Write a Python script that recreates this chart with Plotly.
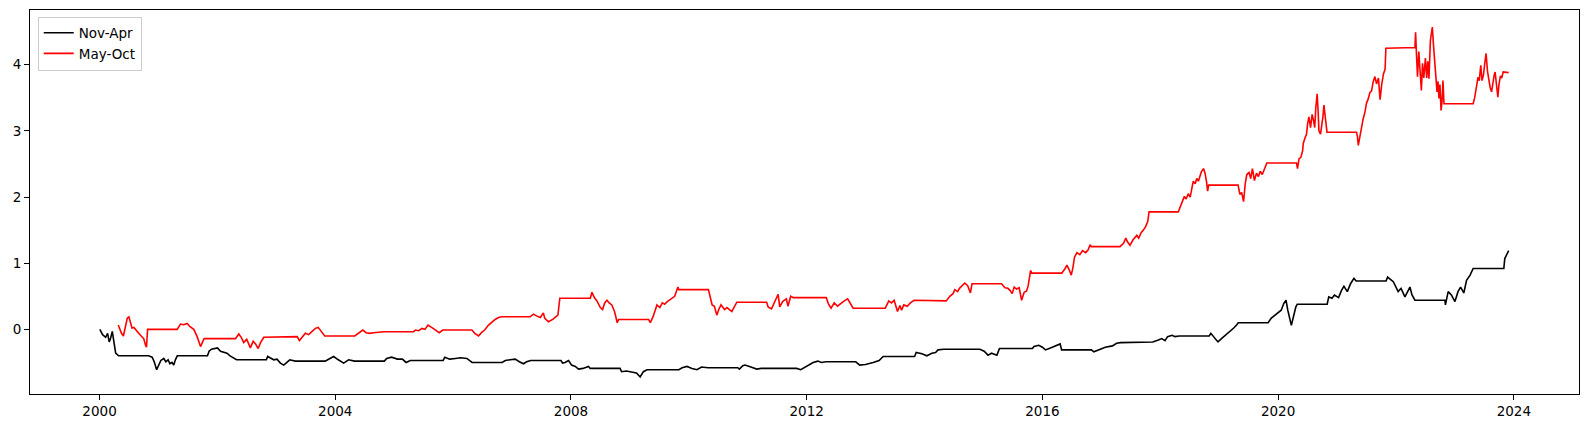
import plotly.graph_objects as go

# ---- data ----
series_names = ["Nov-Apr", "May-Oct"]
series_colors = ["black", "red"]

nov_apr_points = [
    ("2000-01-03", 0.00), ("2000-01-20", -0.08), ("2000-02-08", -0.12), ("2000-02-20", -0.06),
    ("2000-03-01", -0.19), ("2000-03-10", -0.13), ("2000-03-20", -0.03), ("2000-04-01", -0.20),
    ("2000-04-10", -0.36), ("2000-04-28", -0.40), ("2000-10-31", -0.40),
    ("2000-11-22", -0.42), ("2000-12-05", -0.49), ("2000-12-20", -0.61), ("2001-01-05", -0.52),
    ("2001-01-15", -0.47), ("2001-02-02", -0.44), ("2001-02-15", -0.49), ("2001-03-01", -0.46),
    ("2001-03-12", -0.52), ("2001-03-25", -0.50), ("2001-04-05", -0.54), ("2001-04-15", -0.46),
    ("2001-04-27", -0.40), ("2001-10-31", -0.40),
    ("2001-11-10", -0.33), ("2001-11-25", -0.30), ("2001-12-15", -0.29), ("2002-01-01", -0.28),
    ("2002-01-20", -0.33), ("2002-02-10", -0.34), ("2002-03-01", -0.36), ("2002-03-20", -0.40),
    ("2002-04-12", -0.44), ("2002-04-29", -0.46), ("2002-10-31", -0.46),
    ("2002-11-08", -0.41), ("2002-12-01", -0.44), ("2002-12-16", -0.46), ("2003-01-05", -0.45),
    ("2003-01-26", -0.51), ("2003-02-16", -0.54), ("2003-03-09", -0.49), ("2003-03-25", -0.46),
    ("2003-04-29", -0.48), ("2003-10-31", -0.48),
    ("2003-11-15", -0.46), ("2003-12-22", -0.41), ("2004-01-20", -0.46), ("2004-02-22", -0.51),
    ("2004-03-24", -0.46), ("2004-04-29", -0.48), ("2004-10-31", -0.48),
    ("2004-11-15", -0.44), ("2004-12-15", -0.42), ("2005-01-20", -0.45), ("2005-02-20", -0.45),
    ("2005-03-15", -0.50), ("2005-04-10", -0.47), ("2005-04-29", -0.47), ("2005-10-31", -0.47),
    ("2005-11-10", -0.42), ("2005-12-10", -0.45), ("2006-01-15", -0.44), ("2006-02-15", -0.43),
    ("2006-03-27", -0.44), ("2006-04-28", -0.50), ("2006-10-31", -0.50),
    ("2006-11-20", -0.47), ("2006-12-20", -0.46), ("2007-01-20", -0.45), ("2007-02-15", -0.49),
    ("2007-03-13", -0.52), ("2007-04-01", -0.49), ("2007-04-27", -0.47), ("2007-10-31", -0.47),
    ("2007-11-10", -0.51), ("2007-11-25", -0.50), ("2007-12-17", -0.47), ("2008-01-05", -0.54),
    ("2008-01-28", -0.56), ("2008-02-17", -0.60), ("2008-03-15", -0.59), ("2008-04-19", -0.56),
    ("2008-04-29", -0.59), ("2008-10-31", -0.59),
    ("2008-11-10", -0.64), ("2008-12-10", -0.63), ("2009-01-10", -0.65), ("2009-02-10", -0.66),
    ("2009-03-05", -0.72), ("2009-03-25", -0.64), ("2009-04-16", -0.61), ("2009-04-29", -0.61),
    ("2009-10-31", -0.61),
    ("2009-11-20", -0.58), ("2009-12-20", -0.56), ("2010-01-20", -0.59), ("2010-02-20", -0.61),
    ("2010-03-20", -0.57), ("2010-04-29", -0.58), ("2010-10-31", -0.58),
    ("2010-11-10", -0.60), ("2010-12-01", -0.55), ("2010-12-15", -0.54), ("2011-01-20", -0.57),
    ("2011-02-25", -0.60), ("2011-03-25", -0.59), ("2011-04-29", -0.59), ("2011-10-31", -0.59),
    ("2011-11-25", -0.61), ("2012-01-01", -0.56), ("2012-02-10", -0.50), ("2012-03-10", -0.48),
    ("2012-04-02", -0.50), ("2012-04-29", -0.49), ("2012-10-31", -0.49),
    ("2012-11-25", -0.54), ("2012-12-30", -0.53), ("2013-02-16", -0.50), ("2013-03-25", -0.47),
    ("2013-04-19", -0.41), ("2013-04-29", -0.41), ("2013-10-31", -0.41),
    ("2013-11-10", -0.35), ("2013-12-15", -0.37), ("2014-01-15", -0.40), ("2014-02-15", -0.36),
    ("2014-03-10", -0.35), ("2014-03-25", -0.31), ("2014-04-29", -0.30), ("2014-10-31", -0.30),
    ("2014-11-10", -0.29), ("2014-12-10", -0.30), ("2015-01-05", -0.33), ("2015-01-29", -0.39),
    ("2015-02-20", -0.36), ("2015-03-25", -0.39), ("2015-04-10", -0.29), ("2015-04-29", -0.29),
    ("2015-10-31", -0.29),
    ("2015-11-10", -0.26), ("2015-12-10", -0.24), ("2016-01-01", -0.27), ("2016-01-20", -0.31),
    ("2016-02-20", -0.28), ("2016-03-15", -0.26), ("2016-04-05", -0.24), ("2016-04-20", -0.22),
    ("2016-04-29", -0.31), ("2016-10-31", -0.31),
    ("2016-11-15", -0.34), ("2016-12-20", -0.30), ("2017-01-25", -0.27), ("2017-03-10", -0.25),
    ("2017-04-05", -0.21), ("2017-04-29", -0.20), ("2017-10-31", -0.20),
    ("2017-11-15", -0.19), ("2017-12-20", -0.16), ("2018-01-10", -0.14), ("2018-01-30", -0.17),
    ("2018-02-15", -0.11), ("2018-03-15", -0.09), ("2018-04-01", -0.11), ("2018-04-29", -0.10),
    ("2018-10-31", -0.10),
    ("2018-11-10", -0.06), ("2018-12-01", -0.12), ("2018-12-24", -0.19), ("2019-01-15", -0.14),
    ("2019-02-10", -0.09), ("2019-03-05", -0.04), ("2019-04-01", 0.02), ("2019-04-20", 0.07),
    ("2019-04-29", 0.10), ("2019-10-31", 0.10),
    ("2019-11-20", 0.17), ("2019-12-15", 0.22), ("2020-01-20", 0.29), ("2020-02-05", 0.39),
    ("2020-02-19", 0.44), ("2020-03-01", 0.29), ("2020-03-15", 0.14), ("2020-03-23", 0.06),
    ("2020-04-05", 0.19), ("2020-04-20", 0.34), ("2020-04-29", 0.38), ("2020-10-31", 0.38),
    ("2020-11-10", 0.49), ("2020-11-30", 0.47), ("2020-12-15", 0.52), ("2021-01-10", 0.48),
    ("2021-01-28", 0.59), ("2021-02-12", 0.65), ("2021-03-05", 0.57), ("2021-03-25", 0.69),
    ("2021-04-15", 0.77), ("2021-04-29", 0.73), ("2021-10-31", 0.73),
    ("2021-11-10", 0.79), ("2021-11-25", 0.76), ("2021-12-15", 0.72), ("2022-01-14", 0.57),
    ("2022-02-01", 0.62), ("2022-02-25", 0.49), ("2022-03-10", 0.56), ("2022-03-28", 0.64),
    ("2022-04-10", 0.52), ("2022-04-28", 0.44), ("2022-10-31", 0.44),
    ("2022-11-03", 0.37), ("2022-11-20", 0.57), ("2022-12-10", 0.52), ("2023-01-01", 0.42),
    ("2023-01-20", 0.57), ("2023-02-05", 0.64), ("2023-02-25", 0.55), ("2023-03-14", 0.74),
    ("2023-04-05", 0.82), ("2023-04-24", 0.92), ("2023-10-31", 0.92),
    ("2023-11-06", 1.07), ("2023-11-22", 1.15), ("2023-11-30", 1.19),
]

may_oct_points = [
    ("2000-04-26", 0.065), ("2000-05-16", -0.06), ("2000-05-28", -0.10), ("2000-06-08", 0.02),
    ("2000-06-21", 0.17), ("2000-07-01", 0.19), ("2000-07-10", 0.10), ("2000-07-20", 0.02),
    ("2000-08-01", 0.03), ("2000-08-15", -0.02), ("2000-08-31", -0.06), ("2000-09-15", -0.10),
    ("2000-10-01", -0.14), ("2000-10-12", -0.24), ("2000-10-18", -0.27), ("2000-10-25", 0.00),
    ("2001-04-26", 0.00),
    ("2001-05-17", 0.08), ("2001-06-05", 0.07), ("2001-06-27", 0.09), ("2001-07-15", 0.04),
    ("2001-08-07", 0.00), ("2001-08-28", -0.11), ("2001-09-18", -0.26), ("2001-10-01", -0.18),
    ("2001-10-10", -0.14), ("2002-04-23", -0.14),
    ("2002-05-13", -0.07), ("2002-05-28", -0.12), ("2002-06-13", -0.20), ("2002-07-01", -0.15),
    ("2002-07-24", -0.28), ("2002-08-10", -0.18), ("2002-08-25", -0.22), ("2002-09-10", -0.29),
    ("2002-09-25", -0.20), ("2002-10-15", -0.12), ("2003-04-25", -0.12),
    ("2003-05-10", -0.11), ("2003-05-24", -0.17), ("2003-06-10", -0.12), ("2003-06-30", -0.06),
    ("2003-07-20", -0.08), ("2003-08-10", -0.03), ("2003-08-31", 0.015), ("2003-09-17", 0.03),
    ("2003-10-05", -0.02), ("2003-10-28", -0.10), ("2004-05-01", -0.10),
    ("2004-05-20", -0.07), ("2004-06-05", -0.04), ("2004-06-20", -0.01), ("2004-07-10", -0.05),
    ("2004-08-01", -0.06), ("2004-08-25", -0.05), ("2004-09-20", -0.04), ("2004-10-28", -0.035),
    ("2005-05-01", -0.035),
    ("2005-05-12", -0.01), ("2005-06-01", -0.02), ("2005-06-22", 0.015), ("2005-07-10", 0.00),
    ("2005-07-29", 0.065), ("2005-08-20", 0.03), ("2005-09-10", 0.00), ("2005-10-07", -0.05),
    ("2005-10-28", -0.01), ("2006-04-27", -0.01),
    ("2006-05-15", -0.06), ("2006-06-07", -0.10), ("2006-06-25", -0.05), ("2006-07-15", -0.01),
    ("2006-08-08", 0.065), ("2006-08-28", 0.11), ("2006-09-18", 0.15), ("2006-10-09", 0.18),
    ("2006-10-27", 0.19), ("2007-04-23", 0.19),
    ("2007-05-13", 0.23), ("2007-06-05", 0.20), ("2007-06-25", 0.18), ("2007-07-14", 0.25),
    ("2007-07-22", 0.17), ("2007-08-14", 0.115), ("2007-09-10", 0.15), ("2007-10-12", 0.215),
    ("2007-10-24", 0.47), ("2008-04-30", 0.47),
    ("2008-05-10", 0.56), ("2008-05-25", 0.48), ("2008-06-10", 0.43), ("2008-07-01", 0.33),
    ("2008-07-15", 0.30), ("2008-07-28", 0.40), ("2008-08-11", 0.44), ("2008-08-25", 0.40),
    ("2008-09-10", 0.37), ("2008-09-27", 0.27), ("2008-10-08", 0.18), ("2008-10-14", 0.10),
    ("2008-10-22", 0.15), ("2009-04-26", 0.15),
    ("2009-05-07", 0.10), ("2009-05-25", 0.20), ("2009-06-17", 0.37), ("2009-07-05", 0.33),
    ("2009-07-20", 0.40), ("2009-08-03", 0.38), ("2009-08-20", 0.42), ("2009-09-05", 0.45),
    ("2009-09-18", 0.48), ("2009-10-05", 0.50), ("2009-10-25", 0.64), ("2009-10-30", 0.60),
    ("2010-05-02", 0.60),
    ("2010-05-13", 0.47), ("2010-05-25", 0.37), ("2010-06-08", 0.35), ("2010-06-23", 0.215),
    ("2010-07-05", 0.30), ("2010-07-19", 0.37), ("2010-08-10", 0.30), ("2010-08-25", 0.33),
    ("2010-09-24", 0.27), ("2010-10-10", 0.35), ("2010-10-25", 0.41), ("2011-04-28", 0.41),
    ("2011-05-07", 0.34), ("2011-05-28", 0.31), ("2011-06-20", 0.42), ("2011-07-08", 0.53),
    ("2011-07-18", 0.34), ("2011-08-05", 0.42), ("2011-08-28", 0.46), ("2011-09-07", 0.35),
    ("2011-09-24", 0.50), ("2011-10-10", 0.48), ("2012-05-01", 0.48),
    ("2012-05-14", 0.39), ("2012-05-31", 0.32), ("2012-06-20", 0.40), ("2012-07-10", 0.35),
    ("2012-08-01", 0.40), ("2012-08-21", 0.43), ("2012-09-11", 0.46), ("2012-09-28", 0.40),
    ("2012-10-15", 0.32), ("2013-05-02", 0.32),
    ("2013-05-10", 0.37), ("2013-05-24", 0.43), ("2013-06-10", 0.40), ("2013-06-26", 0.44),
    ("2013-07-17", 0.27), ("2013-08-01", 0.36), ("2013-08-11", 0.29), ("2013-08-25", 0.37),
    ("2013-09-15", 0.35), ("2013-10-05", 0.40), ("2013-10-28", 0.44), ("2014-04-26", 0.44),
    ("2014-05-15", 0.43), ("2014-06-06", 0.50), ("2014-06-26", 0.54), ("2014-07-07", 0.60),
    ("2014-07-25", 0.57), ("2014-08-05", 0.62), ("2014-08-21", 0.66), ("2014-09-07", 0.70),
    ("2014-09-25", 0.66), ("2014-10-12", 0.55), ("2014-10-22", 0.69), ("2015-04-23", 0.69),
    ("2015-05-14", 0.63), ("2015-06-01", 0.62), ("2015-06-14", 0.59), ("2015-06-28", 0.54),
    ("2015-07-10", 0.64), ("2015-07-25", 0.61), ("2015-08-10", 0.63), ("2015-08-25", 0.44),
    ("2015-09-10", 0.56), ("2015-09-25", 0.58), ("2015-10-05", 0.66), ("2015-10-20", 0.89),
    ("2015-10-28", 0.85), ("2016-04-30", 0.85),
    ("2016-05-21", 0.92), ("2016-06-01", 0.97), ("2016-06-15", 0.90), ("2016-06-28", 0.82),
    ("2016-07-08", 0.93), ("2016-07-18", 1.09), ("2016-08-02", 1.16), ("2016-08-20", 1.13),
    ("2016-09-06", 1.19), ("2016-09-25", 1.16), ("2016-10-10", 1.20), ("2016-10-23", 1.28),
    ("2016-10-30", 1.25), ("2017-04-26", 1.25),
    ("2017-05-18", 1.30), ("2017-06-01", 1.38), ("2017-06-12", 1.32), ("2017-06-27", 1.27),
    ("2017-07-15", 1.35), ("2017-08-08", 1.42), ("2017-08-20", 1.38), ("2017-09-04", 1.46),
    ("2017-09-18", 1.50), ("2017-10-01", 1.55), ("2017-10-15", 1.63), ("2017-10-23", 1.775),
    ("2018-04-22", 1.775),
    ("2018-05-03", 1.85), ("2018-05-15", 1.92), ("2018-05-30", 2.01), ("2018-06-10", 1.97),
    ("2018-06-23", 2.05), ("2018-07-05", 2.00), ("2018-07-14", 2.15), ("2018-07-24", 2.24),
    ("2018-08-05", 2.20), ("2018-08-15", 2.28), ("2018-08-25", 2.24), ("2018-09-03", 2.33),
    ("2018-09-12", 2.38), ("2018-09-26", 2.43), ("2018-10-05", 2.36), ("2018-10-15", 2.22),
    ("2018-10-21", 2.09), ("2018-10-28", 2.18), ("2019-04-28", 2.18),
    ("2019-05-09", 2.04), ("2019-05-20", 2.07), ("2019-06-01", 1.93), ("2019-06-11", 2.20),
    ("2019-06-21", 2.34), ("2019-07-05", 2.37), ("2019-07-15", 2.28), ("2019-07-26", 2.43),
    ("2019-08-07", 2.25), ("2019-08-20", 2.36), ("2019-09-01", 2.31), ("2019-09-12", 2.39),
    ("2019-09-25", 2.34), ("2019-10-12", 2.45), ("2019-10-23", 2.515), ("2020-04-24", 2.515),
    ("2020-04-30", 2.43), ("2020-05-10", 2.58), ("2020-05-21", 2.60), ("2020-06-01", 2.70),
    ("2020-06-05", 2.81), ("2020-06-15", 2.89), ("2020-06-25", 2.95), ("2020-07-02", 3.11),
    ("2020-07-10", 3.21), ("2020-07-20", 3.05), ("2020-07-30", 3.25), ("2020-08-08", 3.15),
    ("2020-08-15", 3.05), ("2020-08-22", 3.36), ("2020-08-30", 3.56), ("2020-09-05", 3.30),
    ("2020-09-10", 3.00), ("2020-09-20", 2.95), ("2020-09-30", 3.12), ("2020-10-05", 3.22),
    ("2020-10-11", 3.39), ("2020-10-17", 3.25), ("2020-10-23", 3.11), ("2020-10-30", 2.98),
    ("2021-05-01", 2.98),
    ("2021-05-07", 2.91), ("2021-05-12", 2.78), ("2021-05-22", 2.92), ("2021-06-02", 3.04),
    ("2021-06-11", 3.18), ("2021-06-22", 3.28), ("2021-07-02", 3.42), ("2021-07-12", 3.48),
    ("2021-07-23", 3.58), ("2021-08-02", 3.60), ("2021-08-12", 3.74), ("2021-08-23", 3.82),
    ("2021-09-02", 3.71), ("2021-09-14", 3.80), ("2021-09-24", 3.47), ("2021-10-04", 3.70),
    ("2021-10-15", 3.86), ("2021-10-25", 3.93), ("2021-10-30", 4.25), ("2022-04-28", 4.26),
    ("2022-05-02", 4.49), ("2022-05-08", 4.14), ("2022-05-14", 3.82), ("2022-05-22", 4.20),
    ("2022-05-30", 3.95), ("2022-06-07", 3.61), ("2022-06-14", 4.02), ("2022-06-22", 3.80),
    ("2022-07-02", 4.10), ("2022-07-10", 3.80), ("2022-07-17", 4.05), ("2022-07-24", 3.79),
    ("2022-08-02", 4.37), ("2022-08-08", 4.45), ("2022-08-14", 4.57), ("2022-08-21", 4.30),
    ("2022-08-28", 4.04), ("2022-09-05", 3.85), ("2022-09-12", 3.59), ("2022-09-18", 3.75),
    ("2022-09-24", 3.49), ("2022-09-30", 3.70), ("2022-10-07", 3.31), ("2022-10-13", 3.45),
    ("2022-10-19", 3.76), ("2022-10-25", 3.41), ("2023-04-24", 3.41),
    ("2023-05-04", 3.51), ("2023-05-14", 3.65), ("2023-05-24", 3.81), ("2023-06-01", 3.76),
    ("2023-06-10", 3.99), ("2023-06-18", 3.76), ("2023-06-27", 3.85), ("2023-07-05", 4.02),
    ("2023-07-13", 4.17), ("2023-07-22", 3.90), ("2023-07-30", 3.75), ("2023-08-07", 3.66),
    ("2023-08-16", 3.59), ("2023-08-25", 3.75), ("2023-09-01", 3.84), ("2023-09-07", 3.89),
    ("2023-09-15", 3.66), ("2023-09-24", 3.51), ("2023-10-01", 3.70), ("2023-10-10", 3.83),
    ("2023-10-18", 3.80), ("2023-10-27", 3.89), ("2023-11-30", 3.88),
]

x_tick_dates = ["2000-01-01", "2004-01-01", "2008-01-01", "2012-01-01", "2016-01-01", "2020-01-01", "2024-01-01"]
x_tick_labels = ["2000", "2004", "2008", "2012", "2016", "2020", "2024"]
y_tick_values = [0, 1, 2, 3, 4]
y_tick_labels = ["0", "1", "2", "3", "4"]

# ---- figure ----
fig = go.Figure()
for name, color, pts in zip(series_names, series_colors, [nov_apr_points, may_oct_points]):
    xs = [p[0] for p in pts]
    ys = [p[1] for p in pts]
    fig.add_trace(go.Scatter(x=xs, y=ys, mode="lines", name=name,
                             line=dict(color=color, width=1.6)))

font_family = "DejaVu Sans, Liberation Sans, sans-serif"
axis_common = dict(showline=True, linecolor="black", linewidth=1, mirror=True,
                   ticks="outside", ticklen=5, tickwidth=1, tickcolor="black",
                   showgrid=False, zeroline=False,
                   tickfont=dict(family=font_family, size=13.5, color="black"))

# the page body has an 8px default margin, so the figure is sized to fit inside it
fig.update_layout(
    width=1572, height=412,
    margin=dict(l=22, r=1, t=2, b=26, pad=0, autoexpand=False),
    paper_bgcolor="white", plot_bgcolor="white",
    font=dict(family=font_family, size=13.5, color="black"),
    showlegend=True,
    legend=dict(x=0.005, y=0.983, xanchor="left", yanchor="top",
                bgcolor="rgba(255,255,255,0.8)", bordercolor="#cccccc", borderwidth=1,
                font=dict(family=font_family, size=13.5, color="black"),
                tracegroupgap=0, itemwidth=30),
    xaxis=dict(type="date", range=["1998-10-27", "2025-02-08"],
               tickvals=x_tick_dates, ticktext=x_tick_labels, **axis_common),
    yaxis=dict(range=[-0.977, 4.827], tickvals=y_tick_values, ticktext=y_tick_labels,
               **axis_common),
)

fig.write_html("out.html")
